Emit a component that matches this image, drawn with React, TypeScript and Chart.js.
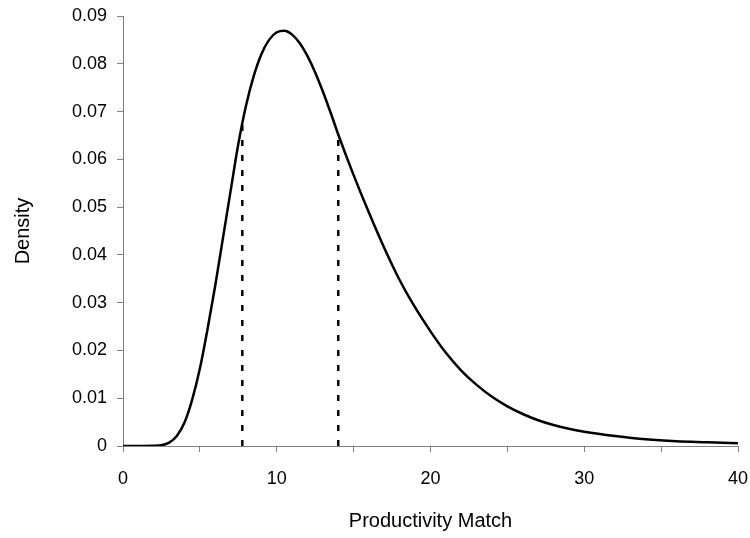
import React, { useEffect, useRef } from "react";
import { Chart, registerables } from "chart.js";

Chart.register(...registerables);

const xValues = [0, 1, 2, 2.5, 3, 3.5, 4, 4.5, 5, 5.5, 6, 6.5, 7, 7.5, 8, 8.5, 9, 9.5, 10, 10.5, 11, 11.5, 12, 12.5, 13, 13.5, 14, 15, 16, 17, 18, 19, 20, 21, 22, 23, 24, 25, 26, 27, 28, 29, 30, 32, 34, 36, 38, 40];
const densityValues = [0, 0, 0.00003, 0.00015, 0.0007, 0.0021, 0.0049, 0.0097, 0.0162, 0.0245, 0.0336, 0.0435, 0.0534, 0.0632, 0.0712, 0.0774, 0.082, 0.085, 0.0866, 0.0869, 0.0861, 0.0843, 0.0816, 0.0782, 0.0742, 0.0698, 0.0652, 0.0567, 0.0488, 0.0414, 0.0347, 0.029, 0.024, 0.0195, 0.0158, 0.0128, 0.0103, 0.0083, 0.0067, 0.0054, 0.0044, 0.0036, 0.003, 0.0021, 0.0014, 0.001, 0.0008, 0.0006];

const markerX = [7.76, 14.0];
const markerTop = [0.0674, 0.0651];

const xTicks = [0, 5, 10, 15, 20, 25, 30, 35, 40];
const xTickLabels = ["0", "", "10", "", "20", "", "30", "", "40"];
const yTicks = [0, 0.01, 0.02, 0.03, 0.04, 0.05, 0.06, 0.07, 0.08, 0.09];
const yTickLabels = ["0", "0.01", "0.02", "0.03", "0.04", "0.05", "0.06", "0.07", "0.08", "0.09"];

const xTitle = "Productivity Match";
const yTitle = "Density";

export default function App() {
  const ref = useRef<HTMLCanvasElement | null>(null);

  useEffect(() => {
    document.body.style.margin = "0";
    if (!ref.current) return;
    const family = 'Arial, "Liberation Sans", sans-serif';
    const tickFont = { family, size: 18 };
    const titleFont = { family, size: 20 };
    const axisColor = "#808080";

    const curve = xValues.map((x, i) => ({ x, y: densityValues[i] }));
    const markers = markerX.map((x, i) => ({
      type: "line" as const,
      data: [
        { x, y: 0 },
        { x, y: markerTop[i] },
      ],
      borderColor: "#000",
      borderWidth: 2.5,
      borderDash: [6, 9],
      pointRadius: 0,
      tension: 0,
    }));

    const chart = new Chart(ref.current, {
      type: "line",
      data: {
        datasets: [
          {
            data: curve,
            borderColor: "#000",
            borderWidth: 2.5,
            pointRadius: 0,
            cubicInterpolationMode: "monotone",
            fill: false,
          },
          ...markers,
        ] as any,
      },
      options: {
        animation: false,
        responsive: false,
        maintainAspectRatio: false,
        layout: { padding: { left: 0, right: 12, top: 16, bottom: 0 } },
        plugins: { legend: { display: false }, tooltip: { enabled: false } },
        scales: {
          x: {
            type: "linear",
            min: 0,
            max: 40,
            afterBuildTicks: (scale: any) => {
              scale.ticks = xTicks.map((v) => ({ value: v }));
            },
            afterFit: (scale: any) => {
              scale.height = 92;
              scale.paddingLeft = 0;
              scale.paddingRight = 0;
            },
            ticks: {
              autoSkip: false,
              maxRotation: 0,
              padding: 16,
              color: "#000",
              font: tickFont,
              callback: (_v: any, i: number) => xTickLabels[i],
            },
            grid: {
              drawOnChartArea: false,
              drawTicks: true,
              tickLength: 6,
              color: axisColor,
            },
            border: { display: true, color: axisColor, width: 1 },
            title: {
              display: true,
              text: xTitle,
              color: "#000",
              font: titleFont,
              padding: { top: 0, bottom: 5 },
            },
          },
          y: {
            type: "linear",
            min: 0,
            max: 0.09,
            afterBuildTicks: (scale: any) => {
              scale.ticks = yTicks.map((v) => ({ value: v }));
            },
            afterFit: (scale: any) => {
              scale.width = 123;
              scale.paddingTop = 0;
              scale.paddingBottom = 0;
            },
            ticks: {
              autoSkip: false,
              padding: 10,
              color: "#000",
              font: tickFont,
              callback: (_v: any, i: number) => yTickLabels[i],
            },
            grid: {
              drawOnChartArea: false,
              drawTicks: true,
              tickLength: 6,
              color: axisColor,
            },
            border: { display: true, color: axisColor, width: 1 },
            title: {
              display: true,
              text: yTitle,
              color: "#000",
              font: titleFont,
              padding: { top: 11, bottom: 0 },
            },
          },
        },
      } as any,
    });
    return () => chart.destroy();
  }, []);

  return (
    <div style={{ position: "absolute", left: 0, top: 0, width: 750, height: 538, background: "#fff" }}>
      <canvas ref={ref} width={750} height={538} style={{ width: 750, height: 538 }} />
    </div>
  );
}
